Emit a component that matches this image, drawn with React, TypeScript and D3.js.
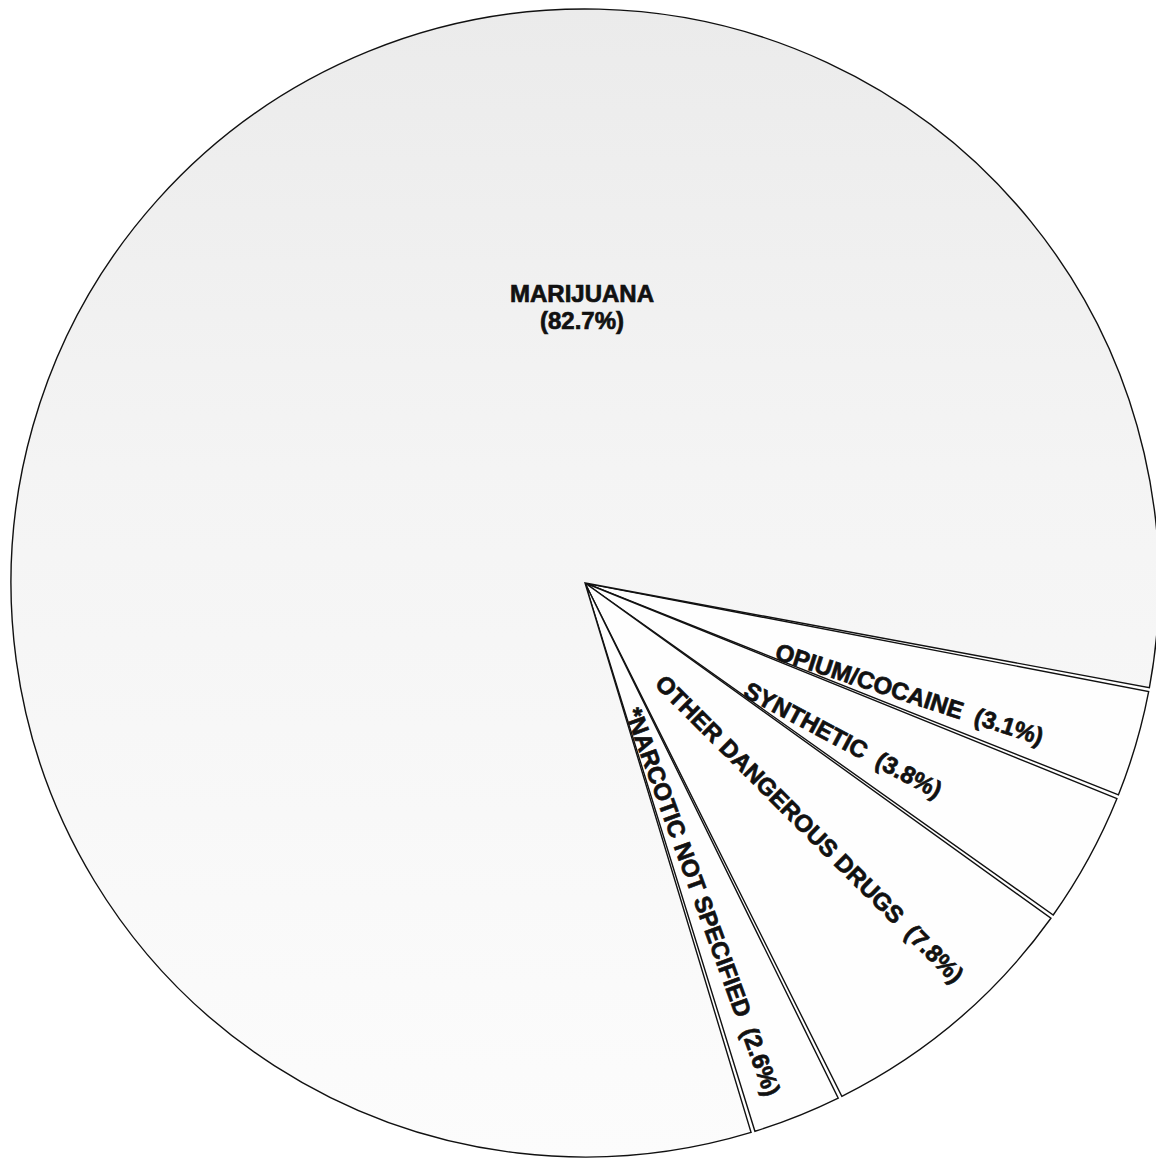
import React from "react";
import * as d3 from "d3";

// ---- data ----
const categories = ["OPIUM/COCAINE", "SYNTHETIC", "OTHER DANGEROUS DRUGS", "*NARCOTIC NOT SPECIFIED", "MARIJUANA"];
const percents = [3.1, 3.8, 7.8, 2.6, 82.7];
const percentLabels = ["(3.1%)", "(3.8%)", "(7.8%)", "(2.6%)", "(82.7%)"];

// ---- layout ----
const W = 1156;
const H = 1158;
const CX = 585;
const CY = 583;
const R = 574;
const START_DEG = 100.7; // d3 angle (0 = 12 o'clock, clockwise)
// label layout for the thin wedges: [angle shift deg, radius, rotation shift deg]
const wedgeLabelLayout = [
  [2.6, 343, 1.7],
  [2.6, 302, -0.7],
  [-2.0, 333, -4.6],
  [1.4, 340, 1.7],
];
const FONT = "'Liberation Sans', Arial, Helvetica, sans-serif";

export default function App() {
  const toRad = (d: number) => (d * Math.PI) / 180;
  const pie = d3
    .pie<number>()
    .sort(null)
    .value((d) => d)
    .startAngle(toRad(START_DEG))
    .endAngle(toRad(START_DEG) + 2 * Math.PI);
  const arcs = pie(percents);
  const arc = d3
    .arc<d3.PieArcDatum<number>>()
    .innerRadius(0)
    .outerRadius(R)
    .padAngle(4 / R)
    .padRadius(R);

  const textProps = {
    fontFamily: FONT,
    fontWeight: "bold" as const,
    fontSize: 24,
    fill: "#111",
    stroke: "#111",
    strokeWidth: 0.7,
  };

  return (
    <svg
      width={W}
      height={H}
      viewBox={`0 0 ${W} ${H}`}
      style={{ position: "absolute", left: 0, top: 0, display: "block", background: "#fff" }}
    >
      <defs>
        <linearGradient id="mj" x1="0" y1="0" x2="0" y2="1">
          <stop offset="0" stopColor="#ebebeb" />
          <stop offset="0.4" stopColor="#f4f4f4" />
          <stop offset="1" stopColor="#fcfcfc" />
        </linearGradient>
      </defs>
      <g transform={`translate(${CX},${CY})`}>
        {arcs.map((a, i) => (
          <path
            key={categories[i]}
            d={arc(a) || ""}
            fill={i === 4 ? "url(#mj)" : "#fefefe"}
            stroke="#111"
            strokeWidth={1.4}
            strokeLinejoin="miter"
          />
        ))}
        {arcs.slice(0, 4).map((a, i) => {
          const mid = (a.startAngle + a.endAngle) / 2;
          const [dA, rr, dRot] = wedgeLabelLayout[i];
          const ang = mid + toRad(dA);
          const x = rr * Math.sin(ang);
          const y = -rr * Math.cos(ang);
          const rot = (mid * 180) / Math.PI - 90 + dRot;
          return (
            <text
              key={"l" + i}
              transform={`translate(${x},${y}) rotate(${rot})`}
              textAnchor="middle"
              dominantBaseline="central"
              {...textProps}
              style={{ whiteSpace: "pre" }}
            >
              {categories[i] + "\u00A0\u00A0" + percentLabels[i]}
            </text>
          );
        })}
      </g>
      <text x={582} y={302} textAnchor="middle" {...textProps}>
        {categories[4]}
      </text>
      <text x={582} y={329} textAnchor="middle" {...textProps}>
        {percentLabels[4]}
      </text>
    </svg>
  );
}
